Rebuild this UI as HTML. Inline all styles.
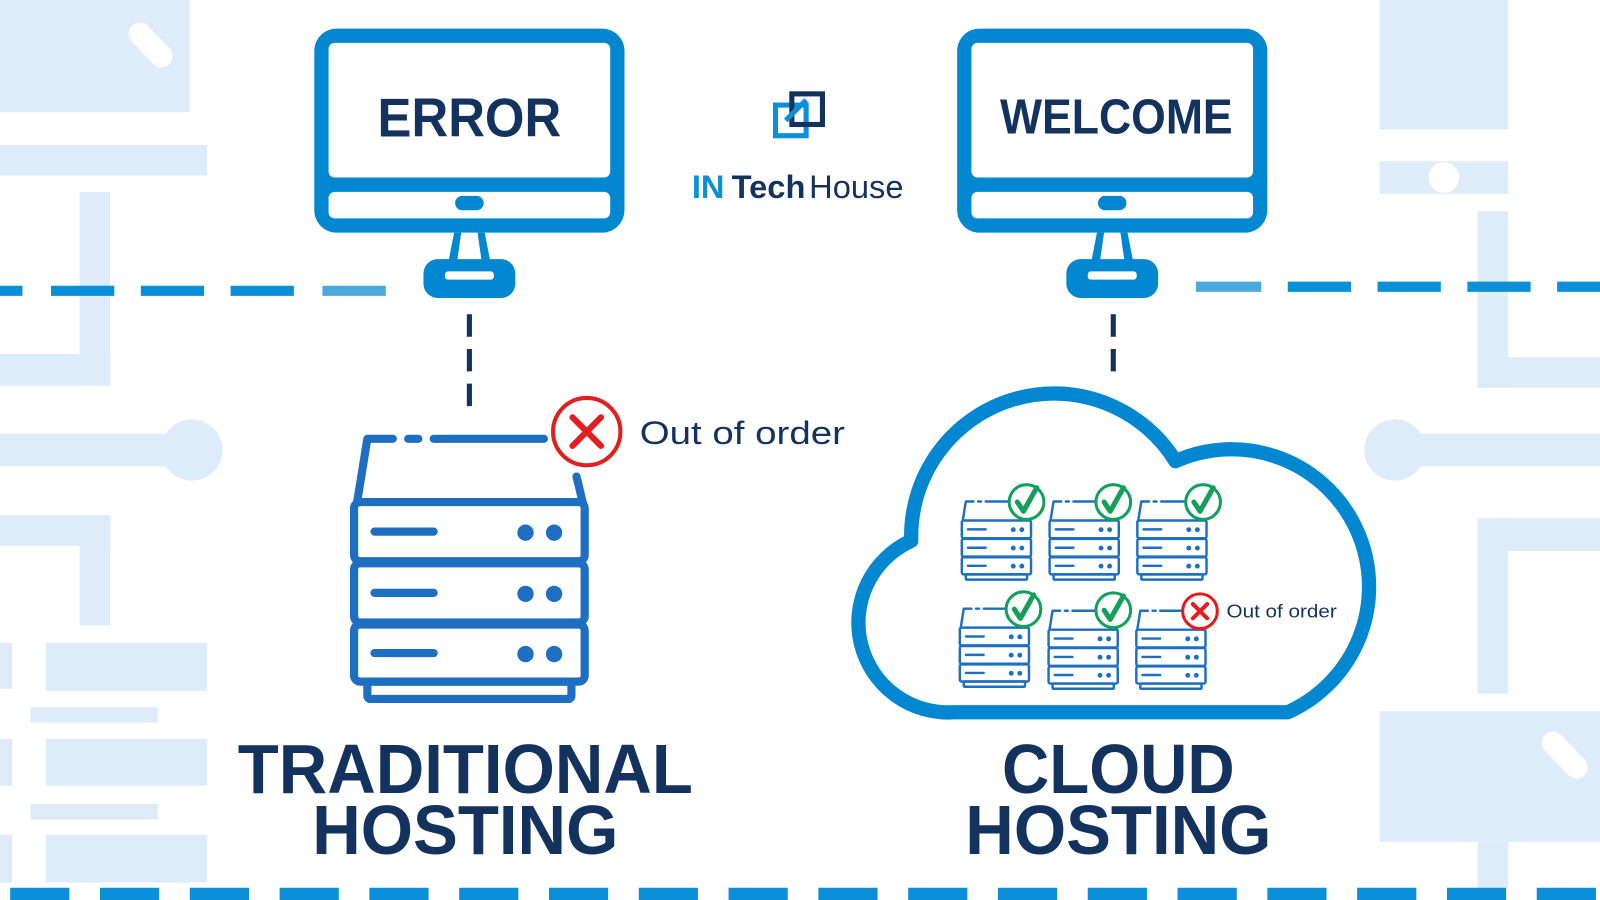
<!DOCTYPE html>
<html><head><meta charset="utf-8"><style>
html,body{margin:0;padding:0;background:#fff;width:1600px;height:900px;overflow:hidden}
svg{display:block}
text{font-family:"Liberation Sans",sans-serif}
</style></head><body>
<svg width="1600" height="900" viewBox="0 0 1568 882" xmlns="http://www.w3.org/2000/svg">
<defs>
<g id="srv" fill="none" stroke="#1e6fc1" stroke-width="8" stroke-linecap="round" stroke-linejoin="round">
  <path d="M5 67 L15 5 L40 5 M55 5 L65 5 M80 5 L188 5"/>
  <path d="M220 42 L226 67"/>
  <rect x="2" y="67" width="226" height="58" rx="6"/>
  <rect x="2" y="127" width="226" height="58" rx="6"/>
  <rect x="2" y="187" width="226" height="56" rx="6"/>
  <rect x="15" y="243" width="200" height="17" rx="3"/>
  <path d="M22 96 H80 M22 156 H80 M22 215 H80"/>
  <g fill="#1e6fc1" stroke="none">
    <circle cx="170" cy="97" r="8"/><circle cx="198" cy="97" r="8"/>
    <circle cx="170" cy="157" r="8"/><circle cx="198" cy="157" r="8"/>
    <circle cx="170" cy="216" r="8"/><circle cx="198" cy="216" r="8"/>
  </g>
</g>
<g id="mon">
  <rect x="0" y="0" width="304" height="200" rx="22" fill="#0287d0"/>
  <rect x="14" y="14" width="276" height="132" rx="6" fill="#fff"/>
  <rect x="14" y="160" width="276" height="26" rx="6" fill="#fff"/>
  <rect x="138" y="164" width="28" height="14" rx="7" fill="#0287d0"/>
  <path d="M137 200 L167 200 L174 236 L130 236 Z" fill="#0287d0"/>
  <path d="M144 200 L160 200 L164 228 L140 228 Z" fill="#fff"/>
  <rect x="107" y="226" width="90" height="38" rx="14" fill="#0287d0"/>
  <rect x="128" y="238" width="48" height="8" rx="3" fill="#fff"/>
</g>
<g id="chk"><circle r="17" fill="#fff" stroke="#12a05a" stroke-width="3"/><path d="M-9 0 L-3 9 L10 -14" fill="none" stroke="#12a05a" stroke-width="5" stroke-linecap="round" stroke-linejoin="round"/></g>
</defs>

<g fill="#deebf8">
  <rect x="0" y="0" width="186" height="110"/>
  <rect x="0" y="142" width="203" height="30"/>
  <rect x="78" y="188" width="30" height="190"/>
  <rect x="0" y="347" width="108" height="31"/>
  <rect x="0" y="425" width="188" height="32"/>
  <circle cx="188" cy="441" r="30"/>
  <rect x="0" y="505" width="108" height="30"/>
  <rect x="78" y="505" width="30" height="108"/>
  <rect x="0" y="630" width="12" height="45"/>
  <rect x="45" y="630" width="158" height="47"/>
  <rect x="30" y="693" width="125" height="15"/>
  <rect x="0" y="724" width="12" height="46"/>
  <rect x="45" y="724" width="158" height="46"/>
  <rect x="30" y="788" width="125" height="15"/>
  <rect x="0" y="818" width="12" height="47"/>
  <rect x="45" y="818" width="158" height="47"/>
  <rect x="1352" y="0" width="126" height="127"/>
  <rect x="1352" y="158" width="126" height="32"/>
  <rect x="1448" y="207" width="30" height="173"/>
  <rect x="1448" y="350" width="120" height="30"/>
  <rect x="1367" y="425" width="201" height="32"/>
  <circle cx="1367" cy="441" r="30"/>
  <rect x="1448" y="508" width="120" height="32"/>
  <rect x="1448" y="508" width="30" height="172"/>
  <rect x="1352" y="697" width="216" height="128"/>
  <rect x="1448" y="825" width="30" height="45"/>
</g>
<g stroke="#fff" stroke-width="22" stroke-linecap="round">
  <line x1="137" y1="33" x2="158" y2="55"/>
  <line x1="1522" y1="728" x2="1545" y2="752"/>
</g>
<circle cx="1415" cy="174" r="15" fill="#fff"/>

<g stroke="#0a8fd8" stroke-width="10">
  <line x1="0" y1="285" x2="312" y2="285" stroke-dasharray="22 28 62 26 62 26 62 26"/>
  <line x1="316" y1="285" x2="378" y2="285" stroke="#4aaade"/>
  <line x1="1172" y1="281" x2="1236" y2="281" stroke="#4aaade"/>
  <line x1="1262" y1="281" x2="1568" y2="281" stroke-dasharray="62 26"/>
  <line x1="10" y1="876" x2="1568" y2="876" stroke-width="12" stroke-dasharray="58 30"/>
</g>

<use href="#mon" x="308" y="28"/>
<use href="#mon" x="938" y="28"/>
<text x="460" y="134" text-anchor="middle" font-size="54" font-weight="bold" fill="#13325e" textLength="180" lengthAdjust="spacingAndGlyphs">ERROR</text>
<text x="1094" y="131" text-anchor="middle" font-size="48" font-weight="bold" fill="#13325e" textLength="228" lengthAdjust="spacingAndGlyphs">WELCOME</text>

<g stroke="#13325e" stroke-width="5">
  <line x1="460" y1="308" x2="460" y2="408" stroke-dasharray="22 12"/>
  <line x1="1091" y1="308" x2="1091" y2="372" stroke-dasharray="22 12"/>
</g>

<g fill="none" stroke-width="5">
  <rect x="760" y="103" width="30" height="30" stroke="#0a8fd8"/>
  <rect x="776" y="92" width="30" height="30" stroke="#13325e"/>
  <path d="M770 118 L790 98" stroke="#0a8fd8"/>
</g>
<text x="678" y="194" font-size="32" fill="#0a8fd8" font-weight="bold">IN</text>
<text x="717" y="194" font-size="32" fill="#13325e" font-weight="bold">Tech</text>
<text x="793" y="194" font-size="32" fill="#13325e">House</text>

<use href="#srv" x="345" y="425"/>
<circle cx="575" cy="423" r="33" fill="#fff" stroke="#e02020" stroke-width="4"/>
<path d="M561 409 L589 437 M589 409 L561 437" stroke="#e02020" stroke-width="6" stroke-linecap="round"/>
<text x="627" y="435" font-size="32" fill="#13325e" textLength="201" lengthAdjust="spacingAndGlyphs">Out of order</text>

<path d="M935 698 A88 88 0 0 1 893 530 A140 140 0 0 1 1152 452 A125 125 0 0 1 1262 698 Z" fill="#fff" stroke="#0287d0" stroke-width="14" stroke-linejoin="round"/>
<g transform="translate(942 490) scale(0.3)"><use href="#srv"/></g>
<g transform="translate(1028 490) scale(0.3)"><use href="#srv"/></g>
<g transform="translate(1114 490) scale(0.3)"><use href="#srv"/></g>
<g transform="translate(940 595) scale(0.3)"><use href="#srv"/></g>
<g transform="translate(1027 597) scale(0.3)"><use href="#srv"/></g>
<g transform="translate(1113 597) scale(0.3)"><use href="#srv"/></g>
<use href="#chk" x="1006" y="492"/>
<use href="#chk" x="1091" y="492"/>
<use href="#chk" x="1179" y="492"/>
<use href="#chk" x="1003" y="597"/>
<use href="#chk" x="1091" y="598"/>
<circle cx="1176" cy="599" r="17" fill="#fff" stroke="#e02020" stroke-width="3"/>
<path d="M1169 592 L1183 606 M1183 592 L1169 606" stroke="#e02020" stroke-width="4" stroke-linecap="round"/>
<text x="1202" y="605" font-size="18" fill="#13325e" textLength="108" lengthAdjust="spacingAndGlyphs">Out of order</text>

<g font-size="68" font-weight="bold" fill="#13325e" text-anchor="middle">
  <text x="456" y="777" textLength="446" lengthAdjust="spacingAndGlyphs">TRADITIONAL</text>
  <text x="456" y="837" textLength="300" lengthAdjust="spacingAndGlyphs">HOSTING</text>
  <text x="1096" y="777" textLength="228" lengthAdjust="spacingAndGlyphs">CLOUD</text>
  <text x="1096" y="837" textLength="300" lengthAdjust="spacingAndGlyphs">HOSTING</text>
</g>
</svg>
</body></html>
